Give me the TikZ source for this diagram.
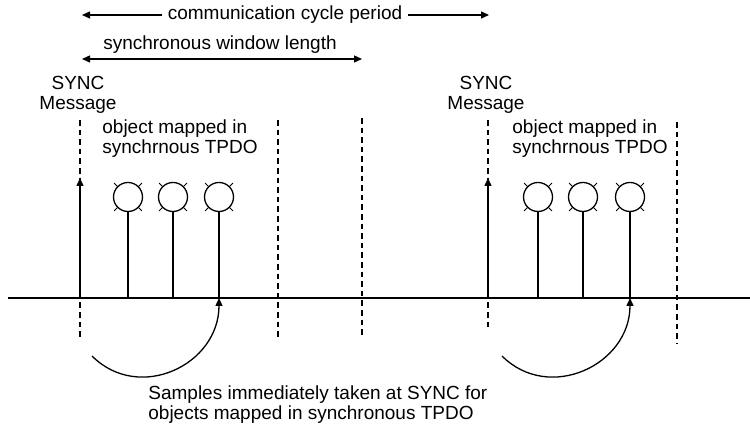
\documentclass[tikz,border=0pt]{standalone}
\usepackage{fontspec}
\setmainfont{Liberation Sans}
\usetikzlibrary{arrows.meta}
\begin{document}
\begin{tikzpicture}[
    x=0.5pt, y=-0.5pt,
    every node/.style={font=\fontsize{9.5}{10}\selectfont, inner sep=0pt},
    timeline/.style={line width=0.65pt},
    guide/.style={line width=0.55pt, dash pattern=on 2.8pt off 2pt},
    tip/.style={-{Triangle[length=4pt, width=3.5pt]}, line width=0.65pt},
    span/.style={{Triangle[length=4pt, width=3.5pt]}-{Triangle[length=4pt, width=3.5pt]}, line width=0.65pt},
    lamp/.style={circle, draw, line width=0.65pt, minimum size=14.5pt}
  ]
  \useasboundingbox (0,0) rectangle (750,426);

  % periods
  \node[inner xsep=2.5pt] (cycle) at (285,15) {communication cycle period};
  \coordinate (cycle-l) at (82,15);
  \coordinate (cycle-r) at (489,15);
  \draw[tip] (cycle.west) -- (cycle-l);
  \draw[tip] (cycle.east) -- (cycle-r);
  \node[anchor=base] (window) at (220,50) {synchronous window length};
  \coordinate (window-l) at (82,59);
  \coordinate (window-r) at (362,59);
  \draw[span] (window-l) -- (window-r);

  % time axis
  \coordinate (axis-l) at (8,298);
  \coordinate (axis-r) at (750,298);
  \draw[timeline] (axis-l) -- (axis-r);

  % window boundaries
  \foreach \n/\x/\ya/\yb in {a1/80/120/338, a2/278/120/338, a3/362/118/338, b1/488/120/329, b2/677/122/344} {
    \coordinate (g-\n-t) at (\x,\ya);
    \coordinate (g-\n-b) at (\x,\yb);
    \draw[guide] (g-\n-t) -- (g-\n-b);
  }

  % SYNC messages (base = last line)
  \foreach \c/\x in {a/80, b/488} {
    \coordinate (sync-\c-foot) at (\x,298);
    \coordinate (sync-\c-head) at (\x,178);
    \draw[tip] (sync-\c-foot) -- (sync-\c-head);
    \node[align=center, anchor=base] (sync-\c) at (\x-2,110) {SYNC\\Message};
  }
  \node[align=left, anchor=base west] (map-a) at (102,154) {object mapped in\\synchrnous TPDO};
  \node[align=left, anchor=base west] (map-b) at (512,154) {object mapped in\\synchrnous TPDO};

  % sampled objects
  \foreach \c/\i/\x in {a/1/128, a/2/173, a/3/219, b/1/538, b/2/583, b/3/630} {
    \node[lamp] (obj-\c\i) at (\x,197) {};
    \foreach \a in {45,135,225,315}
      \draw[line width=0.5pt] (obj-\c\i.\a) -- ++(-\a:4.5);
    \coordinate (obj-\c\i-foot) at (\x,298);
    \draw[timeline] (obj-\c\i) -- (obj-\c\i-foot);
  }

  % sampling at SYNC
  \coordinate (take-a) at (92,356);
  \coordinate (take-b) at (502,356);
  \draw[tip] (take-a) .. controls +(47,47) and +(0,67) .. (obj-a3-foot);
  \draw[tip] (take-b) .. controls +(47,47) and +(0,67) .. (obj-b3-foot);
  \node[align=left, anchor=base west] (note) at (148,420) {Samples immediately taken at SYNC for\\objects mapped in synchronous TPDO};
\end{tikzpicture}
\end{document}
